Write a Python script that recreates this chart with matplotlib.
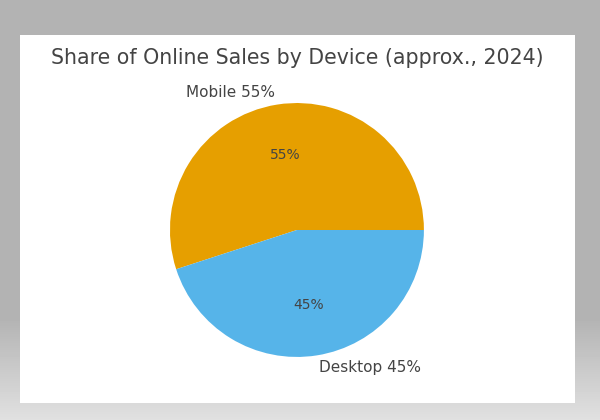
import numpy as np
import matplotlib.pyplot as plt
from matplotlib.patches import Rectangle

devices = ['Mobile', 'Desktop']
shares = [55, 45]
colors = ['#E69F00', '#56B4E9']
title = 'Share of Online Sales by Device (approx., 2024)'

fig = plt.figure(figsize=(6, 4.2), dpi=100)

# gray backdrop, a little lighter at the bottom
bg = fig.add_axes([0, 0, 1, 1], zorder=-2)
grad = np.concatenate([np.full(320, 0.706), np.linspace(0.706, 0.88, 100)])
bg.imshow(np.tile(grad[:, None], (1, 10)), cmap='gray', vmin=0, vmax=1,
          aspect='auto', extent=[0, 1, 0, 1])
bg.add_patch(Rectangle((20 / 600, 1 - 403 / 420), 555 / 600, 368 / 420,
                       facecolor='white', edgecolor='none', transform=bg.transAxes))
bg.set_xlim(0, 1)
bg.set_ylim(0, 1)
bg.axis('off')

fig.text(0.495, 0.862, title, ha='center', va='center', fontsize=14.8, color='#444444')

ax = fig.add_axes([0.2304, 0.0744, 0.529, 0.756])
labels = [f'{d} {s}%' for d, s in zip(devices, shares)]
wedges, texts, autotexts = ax.pie(shares, labels=labels, colors=colors, startangle=0,
                                  autopct='%d%%', textprops={'color': '#444444', 'fontsize': 11})
for t in autotexts:
    t.set_fontsize(10)
ax.set_aspect('equal')

fig.savefig('out.png', dpi=100)
